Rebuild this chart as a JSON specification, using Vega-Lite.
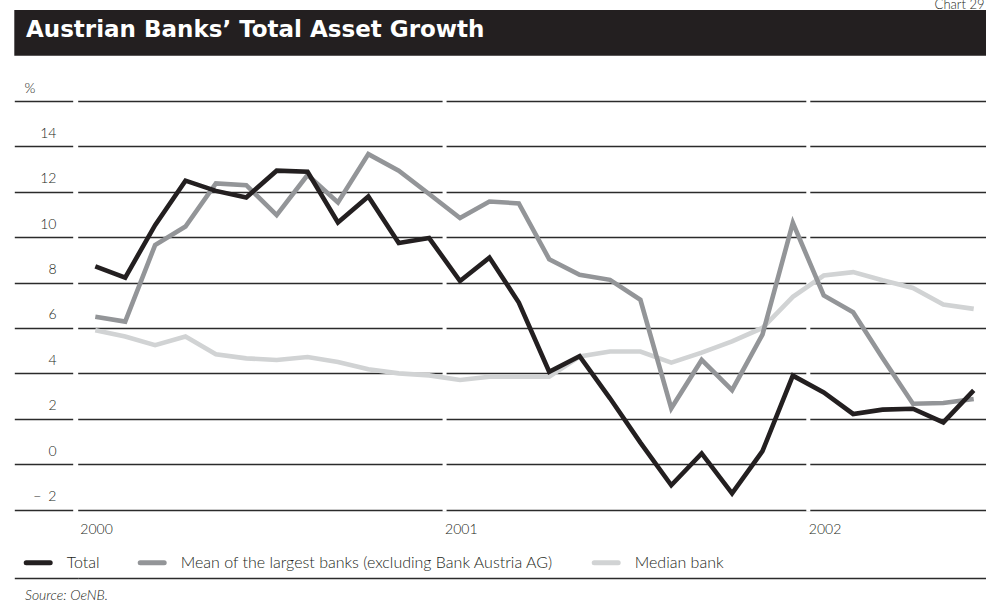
{
  "$schema": "https://vega.github.io/schema/vega-lite/v6.json",
  "background": "white",
  "padding": {"left": 13.3, "top": -1, "right": 0, "bottom": 0},
  "title": {"text": "Chart 29", "anchor": "end", "frame": "bounds", "font": "Lato", "fontWeight": 300, "fontSize": 13, "color": "#231f20", "offset": -2, "dx": -3},
  "spacing": 25,
  "resolve": {"scale": {"color": "independent"}, "legend": {"color": "independent"}},
  "datasets": {
    "growth": [
      {"month": "2000-01", "Total": 8.71, "Mean of the largest banks (excluding Bank Austria AG)": 6.49, "Median bank": 5.90},
      {"month": "2000-02", "Total": 8.22, "Mean of the largest banks (excluding Bank Austria AG)": 6.28, "Median bank": 5.62},
      {"month": "2000-03", "Total": 10.53, "Mean of the largest banks (excluding Bank Austria AG)": 9.65, "Median bank": 5.24},
      {"month": "2000-04", "Total": 12.49, "Mean of the largest banks (excluding Bank Austria AG)": 10.47, "Median bank": 5.62},
      {"month": "2000-05", "Total": 12.04, "Mean of the largest banks (excluding Bank Austria AG)": 12.37, "Median bank": 4.84},
      {"month": "2000-06", "Total": 11.75, "Mean of the largest banks (excluding Bank Austria AG)": 12.29, "Median bank": 4.66},
      {"month": "2000-07", "Total": 12.93, "Mean of the largest banks (excluding Bank Austria AG)": 10.97, "Median bank": 4.59},
      {"month": "2000-08", "Total": 12.88, "Mean of the largest banks (excluding Bank Austria AG)": 12.74, "Median bank": 4.72},
      {"month": "2000-09", "Total": 10.65, "Mean of the largest banks (excluding Bank Austria AG)": 11.53, "Median bank": 4.50},
      {"month": "2000-10", "Total": 11.79, "Mean of the largest banks (excluding Bank Austria AG)": 13.66, "Median bank": 4.18},
      {"month": "2000-11", "Total": 9.74, "Mean of the largest banks (excluding Bank Austria AG)": 12.93, "Median bank": 4.00},
      {"month": "2000-12", "Total": 9.96, "Mean of the largest banks (excluding Bank Austria AG)": 11.90, "Median bank": 3.91},
      {"month": "2001-01", "Total": 8.07, "Mean of the largest banks (excluding Bank Austria AG)": 10.84, "Median bank": 3.71},
      {"month": "2001-02", "Total": 9.10, "Mean of the largest banks (excluding Bank Austria AG)": 11.57, "Median bank": 3.85},
      {"month": "2001-03", "Total": 7.12, "Mean of the largest banks (excluding Bank Austria AG)": 11.49, "Median bank": 3.85},
      {"month": "2001-04", "Total": 4.07, "Mean of the largest banks (excluding Bank Austria AG)": 9.03, "Median bank": 3.85},
      {"month": "2001-05", "Total": 4.76, "Mean of the largest banks (excluding Bank Austria AG)": 8.34, "Median bank": 4.74},
      {"month": "2001-06", "Total": 2.90, "Mean of the largest banks (excluding Bank Austria AG)": 8.12, "Median bank": 4.96},
      {"month": "2001-07", "Total": 0.95, "Mean of the largest banks (excluding Bank Austria AG)": 7.24, "Median bank": 4.96},
      {"month": "2001-08", "Total": -0.93, "Mean of the largest banks (excluding Bank Austria AG)": 2.46, "Median bank": 4.47},
      {"month": "2001-09", "Total": 0.47, "Mean of the largest banks (excluding Bank Austria AG)": 4.59, "Median bank": 4.91},
      {"month": "2001-10", "Total": -1.29, "Mean of the largest banks (excluding Bank Austria AG)": 3.26, "Median bank": 5.41},
      {"month": "2001-11", "Total": 0.57, "Mean of the largest banks (excluding Bank Austria AG)": 5.71, "Median bank": 6.00},
      {"month": "2001-12", "Total": 3.90, "Mean of the largest banks (excluding Bank Austria AG)": 10.63, "Median bank": 7.37},
      {"month": "2002-01", "Total": 3.16, "Mean of the largest banks (excluding Bank Austria AG)": 7.43, "Median bank": 8.31},
      {"month": "2002-02", "Total": 2.21, "Mean of the largest banks (excluding Bank Austria AG)": 6.69, "Median bank": 8.46},
      {"month": "2002-03", "Total": 2.40, "Mean of the largest banks (excluding Bank Austria AG)": 4.68, "Median bank": 8.10},
      {"month": "2002-04", "Total": 2.44, "Mean of the largest banks (excluding Bank Austria AG)": 2.66, "Median bank": 7.76},
      {"month": "2002-05", "Total": 1.84, "Mean of the largest banks (excluding Bank Austria AG)": 2.69, "Median bank": 7.03},
      {"month": "2002-06", "Total": 3.25, "Mean of the largest banks (excluding Bank Austria AG)": 2.87, "Median bank": 6.84}
    ],
    "yearStarts": [{"year": "2001-01-01"}, {"year": "2002-01-01"}]
  },
  "vconcat": [
    {
      "width": 972.7,
      "height": 45.7,
      "view": {"fill": "#231f20", "stroke": null},
      "title": {"text": "Austrian Banks’ Total Asset Growth", "orient": "top", "anchor": "start", "frame": "group", "offset": -50, "dx": 11.7, "baseline": "alphabetic", "color": "#ffffff", "font": "DejaVu Sans", "fontWeight": "bold", "fontSize": 23},
      "data": {"values": [{}]},
      "mark": {"type": "text"},
      "encoding": {"text": {"value": ""}}
    },
    {
      "width": 972.7,
      "height": 476.6,
      "title": {"text": "Source: OeNB.", "orient": "bottom", "anchor": "start", "frame": "group", "dx": 10.7, "offset": 10, "font": "Lato", "fontStyle": "italic", "fontWeight": 300, "fontSize": 14, "color": "#231f20"},
      "layer": [
        {
          "data": {"name": "yearStarts"},
          "mark": {"type": "rule", "color": "#ffffff", "strokeWidth": 4},
          "encoding": {
            "x": {"field": "year", "type": "temporal", "title": null},
            "y": {"datum": 16.1},
            "y2": {"datum": -2.1}
          }
        },
        {
          "data": {"name": "growth"},
          "transform": [{"fold": ["Total", "Mean of the largest banks (excluding Bank Austria AG)", "Median bank"], "as": ["series", "value"]}],
          "encoding": {
            "x": {
              "field": "month", "type": "temporal", "timeUnit": "utcyearmonth", "bandPosition": 0.5,
              "scale": {"type": "utc", "nice": false, "domain": [{"year": 1999, "month": 12, "date": 29, "hours": 20, "utc": true}, {"year": 2002, "month": 6, "date": 29, "hours": 8, "utc": true}], "range": [63.4, 972.7]},
              "axis": {"orient": "bottom", "offset": -48, "values": [{"year": 2000, "utc": true}, {"year": 2001, "utc": true}, {"year": 2002, "utc": true}], "labelExpr": "utcFormat(datum.value, '%Y')", "domain": false, "ticks": false, "grid": false, "labelAlign": "left", "labelBaseline": "middle", "labelPadding": 0, "labelFlush": false, "labelOverlap": false, "labelFont": "Lato", "labelFontWeight": 300, "labelFontSize": 14, "labelColor": "#231f20", "title": null}
            },
            "y": {
              "field": "value", "type": "quantitative",
              "scale": {"domain": [-5, 16], "nice": false, "zero": false},
              "axis": {
                "orient": "left", "offset": -63.4,
                "values": [-5, -3.5, -2, -1, 0, 1, 2, 3, 4, 5, 6, 7, 8, 9, 10, 11, 12, 13, 14, 15, 16],
                "domain": false,
                "grid": true, "gridColor": "#2b2b2b", "gridWidth": 1.3,
                "ticks": true, "tickSize": 63.4, "tickColor": "#2b2b2b", "tickWidth": 1.3,
                "tickOpacity": {"condition": {"test": "datum.value >= -2 && datum.value % 2 !== 0", "value": 0}, "value": 1},
                "tickDash": {"condition": {"test": "datum.value >= -2", "value": [0, 5, 100]}, "value": []},
                "labelExpr": "datum.value >= -2 && datum.value <= 14 && datum.value % 2 === 0 ? (datum.value < 0 ? '\u2212\u2002' + abs(datum.value) : datum.label) : ''",
                "labelAlign": "right", "labelBaseline": "middle", "labelPadding": -41.7, "labelOffset": -13,
                "labelOverlap": false, "labelFlush": false, "labelBound": false,
                "labelFont": "Lato", "labelFontWeight": 300, "labelFontSize": 14, "labelColor": "#231f20",
                "title": "%", "titleAngle": 0, "titleX": -53.7, "titleY": -12.4, "titleAlign": "left", "titleBaseline": "middle",
                "titleFont": "Lato", "titleFontWeight": 300, "titleFontSize": 14, "titleColor": "#231f20"
              }
            },
            "color": {
              "field": "series", "type": "nominal",
              "scale": {"domain": ["Total", "Mean of the largest banks (excluding Bank Austria AG)", "Median bank"], "range": ["#231f20", "#939598", "#d1d3d4"]},
              "legend": {
                "orient": "none", "legendX": 9.4, "legendY": 447, "direction": "horizontal", "columns": 3, "title": null, "padding": 0,
                "symbolType": "stroke", "symbolSize": 576, "symbolStrokeWidth": 5,
                "labelFont": "Lato", "labelFontWeight": 300, "labelFontSize": 16, "labelColor": "#231f20", "labelOffset": 14, "labelLimit": 600,
                "columnPadding": 30,
                "encode": {"symbols": {"update": {"strokeCap": {"value": "round"}}}}
              }
            }
          },
          "layer": [
            {"transform": [{"filter": {"field": "series", "equal": "Median bank"}}], "mark": {"type": "line", "strokeWidth": 4.6, "strokeJoin": "miter", "strokeMiterLimit": 6}},
            {"transform": [{"filter": {"field": "series", "equal": "Mean of the largest banks (excluding Bank Austria AG)"}}], "mark": {"type": "line", "strokeWidth": 4.6, "strokeJoin": "miter", "strokeMiterLimit": 6}},
            {"transform": [{"filter": {"field": "series", "equal": "Total"}}], "mark": {"type": "line", "strokeWidth": 4.6, "strokeJoin": "miter", "strokeMiterLimit": 6}}
          ]
        }
      ]
    }
  ],
  "config": {"view": {"stroke": null}, "font": "Lato"}
}
